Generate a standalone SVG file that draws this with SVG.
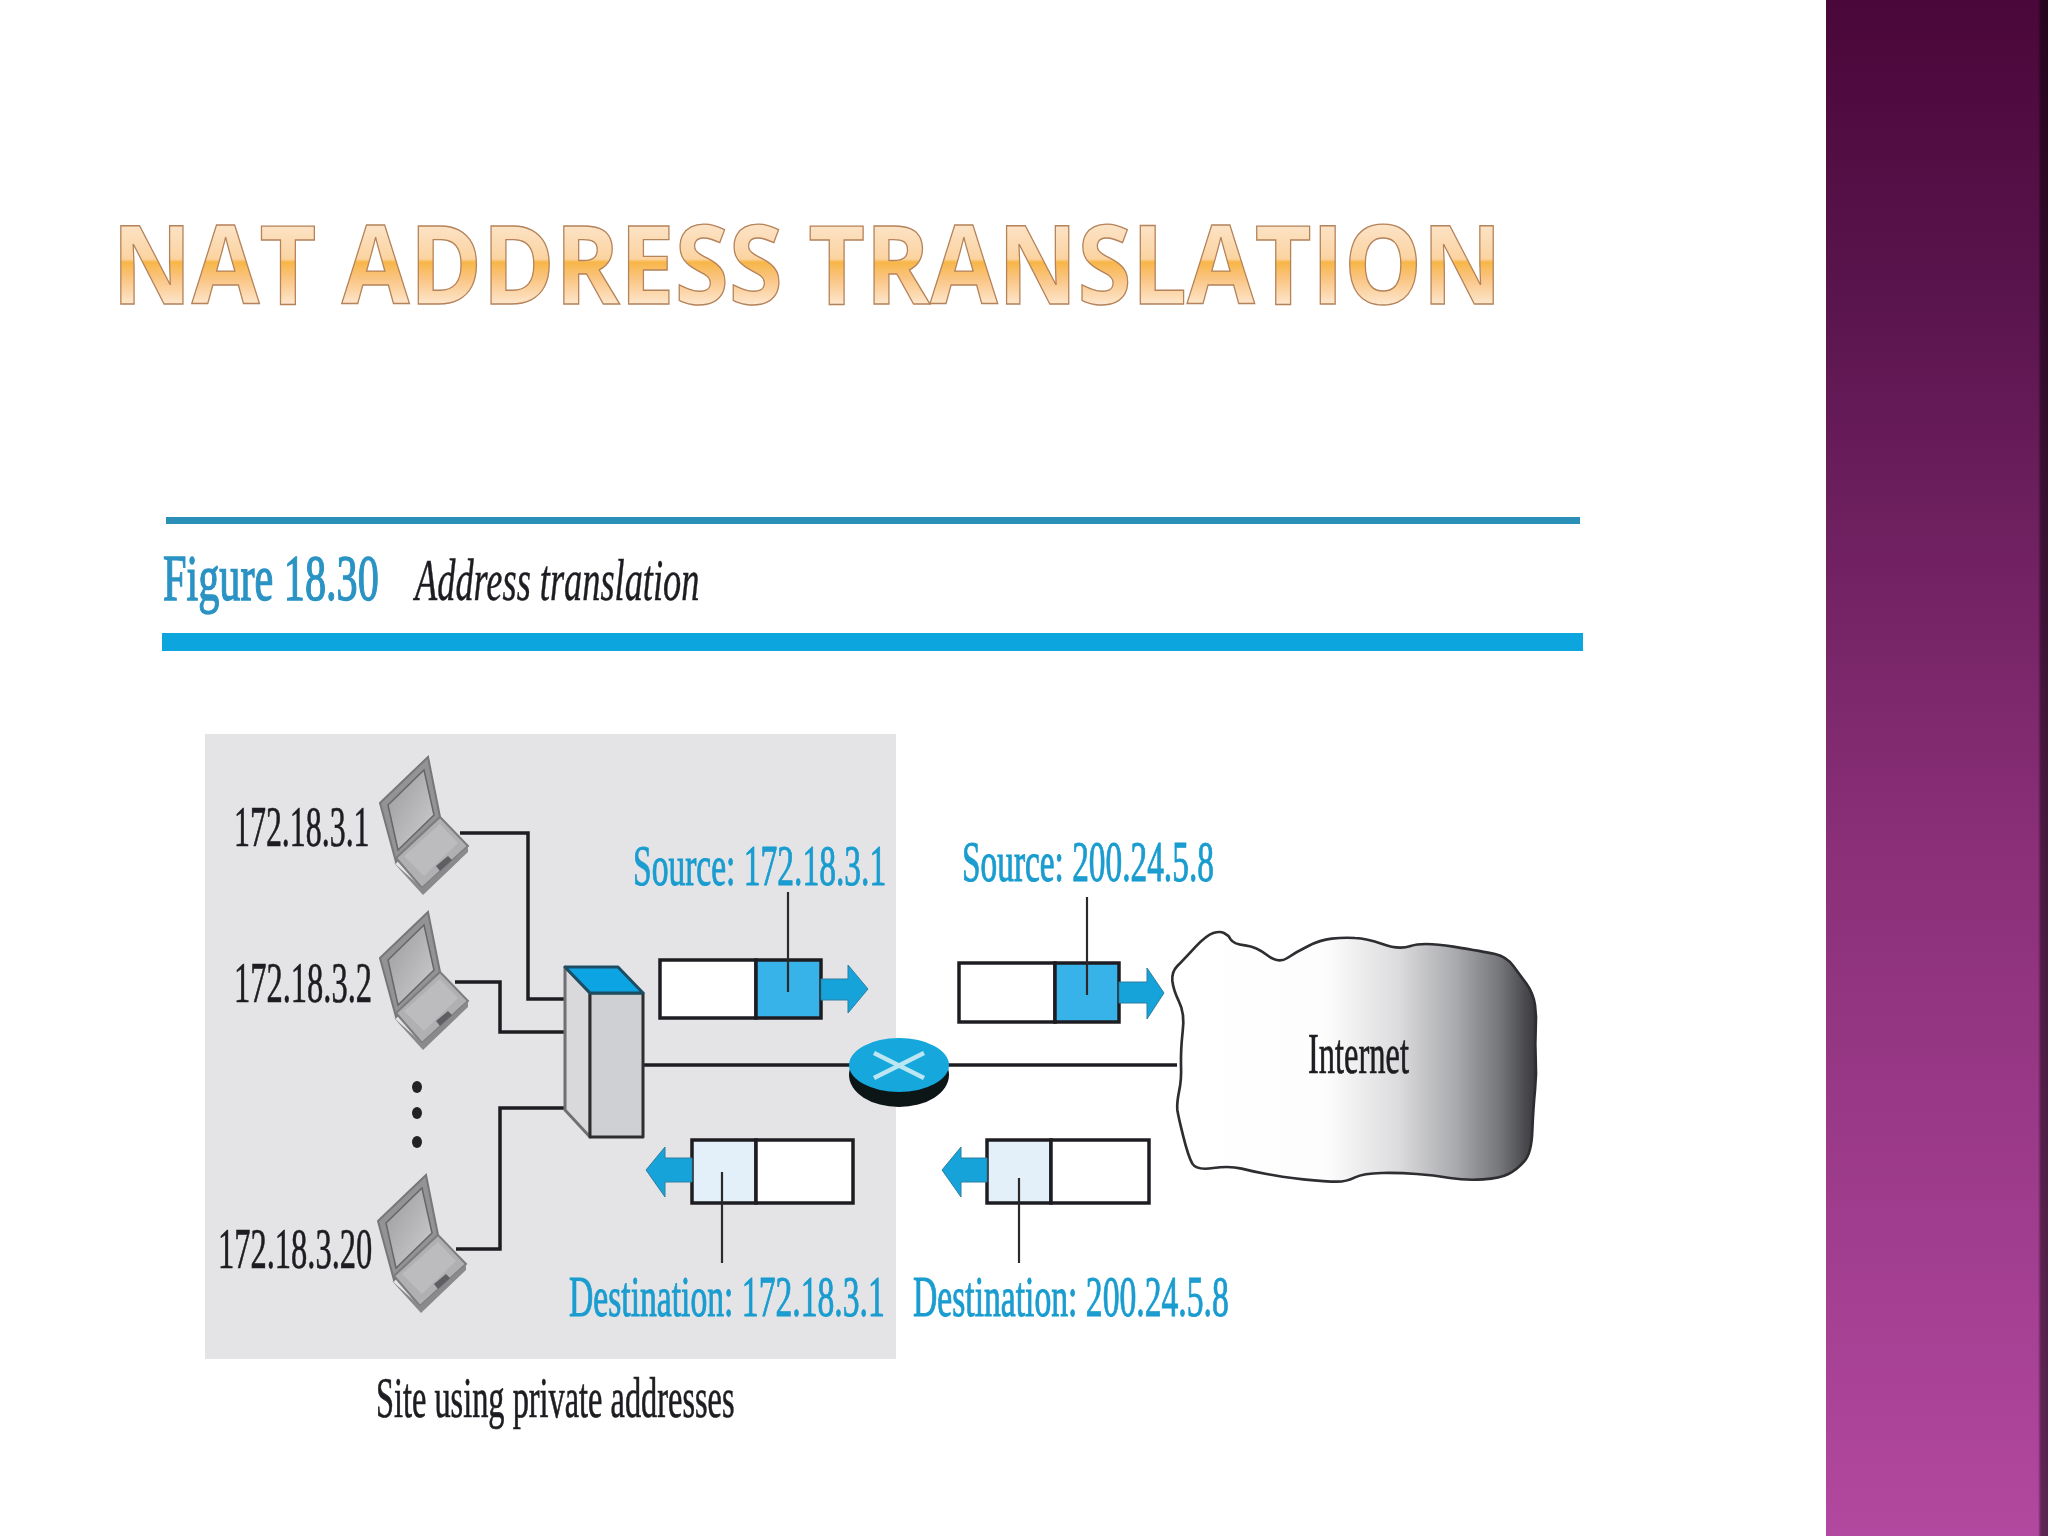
<svg xmlns="http://www.w3.org/2000/svg" width="2048" height="1536" viewBox="0 0 2048 1536">
<defs>
<linearGradient id="panel" x1="0" y1="0" x2="0" y2="1"><stop offset="0" stop-color="#4a0739"/><stop offset=".2" stop-color="#5b154e"/><stop offset=".55" stop-color="#8a2f78"/><stop offset="1" stop-color="#b2489f"/></linearGradient>
<linearGradient id="edge" x1="0" y1="0" x2="1" y2="0"><stop offset="0" stop-color="#000" stop-opacity="0"/><stop offset=".3" stop-color="#000" stop-opacity=".45"/><stop offset="1" stop-color="#000" stop-opacity=".5"/></linearGradient>
<linearGradient id="titleFill" gradientUnits="userSpaceOnUse" x1="0" y1="225" x2="0" y2="304"><stop offset="0" stop-color="#fce3c6"/><stop offset=".43" stop-color="#fbd3a0"/><stop offset=".47" stop-color="#f8b648"/><stop offset=".68" stop-color="#fac583"/><stop offset="1" stop-color="#fde6cc"/></linearGradient>
<linearGradient id="cloudFill" x1="0" y1="0" x2="1" y2="0"><stop offset="0" stop-color="#fff"/><stop offset=".42" stop-color="#fdfdfd"/><stop offset=".62" stop-color="#dcdcde"/><stop offset=".78" stop-color="#a9aaad"/><stop offset=".9" stop-color="#75767a"/><stop offset="1" stop-color="#38383c"/></linearGradient>
<linearGradient id="screen" x1="0" y1="0" x2="1" y2="1"><stop offset="0" stop-color="#9a9a9c"/><stop offset="1" stop-color="#cfcfd1"/></linearGradient>
<filter id="soft" x="-2%" y="-2%" width="104%" height="104%"><feGaussianBlur stdDeviation="0.7"/></filter>
<g id="laptop">
<polygon points="380,803 428,757 440,817 396,862" fill="#939395" stroke="#77777a" stroke-width="2"/>
<polygon points="388,805 424,770 434,815 398,850" fill="url(#screen)" stroke="#666" stroke-width="1.5"/>
<polygon points="396,858 440,817 468,846 422,888" fill="#b0b0b2" stroke="#7c7c7f" stroke-width="2"/>
<polygon points="393,862 422,888 468,846 468,852 423,895" fill="#8a8a8d"/>
<polygon points="404,856 440,824 458,843 424,876" fill="#bcbcbe"/>
<polygon points="436,866 448,856 452,860 440,871" fill="#5f5f64"/>
</g>
</defs>
<style>
.serif{font-family:"Liberation Serif","Times New Roman",serif;font-size:58px}
.black{fill:#1f1f21;stroke:#1f1f21;stroke-width:.7}
.cyan{fill:#1a9ccf;stroke:#1a9ccf;stroke-width:1}
.wire{fill:none;stroke:#1f1f21;stroke-width:3.5}
.stem{fill:none;stroke:#2a2a2c;stroke-width:2.2}
.pk{stroke:#1f1f21;stroke-width:3.5}
.arrow{fill:#12a3d9;stroke:#2f7f9f;stroke-width:1}
</style>
<rect width="2048" height="1536" fill="#fff"/>
<g id="side-panel">
<rect x="1826" y="0" width="222" height="1536" fill="url(#panel)"/>
<rect x="2038" y="0" width="10" height="1536" fill="url(#edge)"/>
</g>
<g id="title">
<text x="112" y="304" font-family="'Open Sans','Noto Sans',sans-serif" font-size="109" font-weight="700" fill="url(#titleFill)" stroke="#b5835a" stroke-width="1.4" textLength="1390" lengthAdjust="spacingAndGlyphs">NAT ADDRESS TRANSLATION</text>
</g>
<g filter="url(#soft)">
<g id="figure-header">
<rect x="166" y="517" width="1414" height="7" fill="#2b90b8"/>
<rect x="162" y="633" width="1421" height="18" fill="#08a5de"/>
<text transform="translate(163 600) scale(.64 1)" font-family="'Liberation Serif',serif" font-size="66" fill="#2a93c4" stroke="#2a93c4" stroke-width="1.4">Figure 18.30</text>
<text transform="translate(415 600) scale(.606 1)" font-family="'Liberation Serif',serif" font-size="60" font-style="italic" fill="#1f1f21" stroke="#1f1f21" stroke-width=".5">Address translation</text>
</g>
<g id="site">
<rect x="205" y="734" width="691" height="625" fill="#e4e4e7"/>
<text transform="translate(376 1417) scale(.558 1)" class="serif black">Site using private addresses</text>
</g>
<g id="connectors">
<path class="wire" d="M460 833H528V999H566"/>
<path class="wire" d="M455 982H500V1032H566"/>
<path class="wire" d="M456 1249H500V1108H566"/>
<path class="wire" d="M644 1065H852"/>
<path class="wire" d="M948 1065H1177"/>
</g>
<g id="host-1"><use href="#laptop"/><text transform="translate(234 846) scale(.55 1)" class="serif black">172.18.3.1</text></g>
<g id="host-2"><use href="#laptop" y="155"/><text transform="translate(234 1002) scale(.56 1)" class="serif black">172.18.3.2</text></g>
<g id="host-ellipsis" fill="#222"><ellipse cx="417" cy="1087" rx="5" ry="6"/><ellipse cx="417" cy="1113" rx="5" ry="6"/><ellipse cx="417" cy="1142" rx="5" ry="6"/></g>
<g id="host-20"><use href="#laptop" x="-2" y="418"/><text transform="translate(218 1268) scale(.56 1)" class="serif black">172.18.3.20</text></g>
<g id="switch" stroke="#2f2f31" stroke-width="3" stroke-linejoin="round">
<polygon points="565,967 590,993 590,1137 565,1110" fill="#d9d9dc" stroke="#6f6f72"/>
<polygon points="590,993 643,993 643,1137 590,1137" fill="#cfd0d3"/>
<polygon points="565,967 618,967 643,993 590,993" fill="#0ea4e4" stroke="#1d4d64"/>
</g>
<g id="router">
<ellipse cx="899" cy="1075" rx="50" ry="32" fill="#101418"/>
<ellipse cx="899" cy="1065" rx="50" ry="27" fill="#12a8dc"/>
<path d="M874 1053L924 1078M924 1053L874 1078" stroke="#bde6f3" stroke-width="4.5" fill="none"/>
</g>
<g id="packet-out-private">
<rect class="pk" x="660" y="960" width="96" height="58" fill="#fff"/>
<rect class="pk" x="756" y="960" width="65" height="58" fill="#39b3e9"/>
<polygon class="arrow" points="821,979 848,979 848,965 868,989 848,1013 848,1000 821,1000"/>
<path class="stem" d="M788 892V992"/>
<text transform="translate(633 885) scale(.578 1)" class="serif cyan">Source: 172.18.3.1</text>
</g>
<g id="packet-out-public">
<rect class="pk" x="959" y="963" width="96" height="59" fill="#fff"/>
<rect class="pk" x="1055" y="963" width="64" height="59" fill="#39b3e9"/>
<polygon class="arrow" points="1119,982 1147,982 1147,968 1164,993 1147,1019 1147,1003 1119,1003"/>
<path class="stem" d="M1087 897V995"/>
<text transform="translate(962 881) scale(.575 1)" class="serif cyan">Source: 200.24.5.8</text>
</g>
<g id="packet-in-private">
<rect class="pk" x="692" y="1140" width="64" height="63" fill="#e3f0fa"/>
<rect class="pk" x="756" y="1140" width="97" height="63" fill="#fff"/>
<polygon class="arrow" points="692,1158 665,1158 665,1147 646,1170 665,1197 665,1182 692,1182"/>
<path class="stem" d="M722 1172V1263"/>
<text transform="translate(569 1316) scale(.58 1)" class="serif cyan">Destination: 172.18.3.1</text>
</g>
<g id="packet-in-public">
<rect class="pk" x="987" y="1140" width="64" height="63" fill="#e3f0fa"/>
<rect class="pk" x="1051" y="1140" width="98" height="63" fill="#fff"/>
<polygon class="arrow" points="987,1158 961,1158 961,1147 942,1170 961,1197 961,1182 987,1182"/>
<path class="stem" d="M1019 1178V1263"/>
<text transform="translate(913 1316) scale(.58 1)" class="serif cyan">Destination: 200.24.5.8</text>
</g>
<g id="internet">
<path transform="translate(1150 900) scale(.33333)" fill="url(#cloudFill)" stroke="#2e2e30" stroke-width="8" d="M82 198Q100 180 135 142Q170 105 190 99Q210 93 222 99Q235 105 242 118Q250 132 285 136Q320 140 352 166Q385 192 412 174Q440 155 475 138Q510 120 545 116Q580 112 615 114Q650 115 697 132Q745 150 782 138Q820 125 910 140Q1000 155 1035 162Q1070 170 1090 198Q1110 225 1130 252Q1150 280 1155 315Q1160 350 1157 390Q1155 430 1157 475Q1160 520 1155 570Q1150 620 1147 690Q1145 760 1122 785Q1100 810 1075 822Q1050 835 1000 838Q950 842 900 834Q850 825 800 822Q750 818 695 819Q640 820 615 832Q590 845 560 845Q530 845 460 838Q390 830 350 822Q310 815 275 806Q240 797 190 804Q140 812 127 791Q115 770 100 710Q85 650 82 630Q80 610 87 575Q95 540 93 495Q92 450 98 395Q105 340 87 305Q70 270 67 242Q65 215 82 198Z"/>
<text transform="translate(1308 1073) scale(.56 1)" class="serif black">Internet</text>
</g>
</g>
</svg>
